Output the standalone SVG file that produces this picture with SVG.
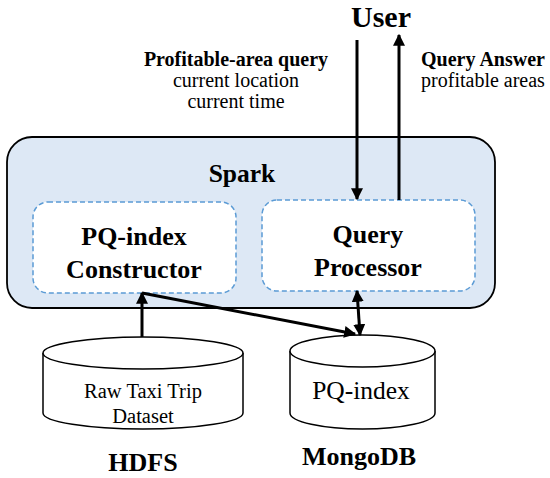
<svg xmlns="http://www.w3.org/2000/svg" width="550" height="478" viewBox="0 0 550 478" font-family="'Liberation Serif', 'DejaVu Serif', serif">
<style>
text{font-family:'Liberation Serif','DejaVu Serif',serif;fill:#000;text-anchor:middle}
.b{font-weight:bold}
.sub{stroke:#5b9bd5;stroke-width:1.5;stroke-dasharray:5 3;fill:#fff}
.cyl{fill:#fff;stroke:#000;stroke-width:1.5}
.ln{stroke:#000;stroke-width:3;fill:none}
</style>
<defs>
<marker id="ah" viewBox="0 0 10 10" refX="9" refY="5" markerWidth="4" markerHeight="4" orient="auto-start-reverse" markerUnits="strokeWidth">
<path d="M0,0 L10,5 L0,10 Z" fill="#000"/>
</marker>
</defs>
<g id="spark">
<rect x="7" y="137" width="488" height="171" rx="25" ry="25" fill="#dde8f5" stroke="#000" stroke-width="1.8"/>
<text class="b" x="242" y="182" font-size="25.5">Spark</text>
</g>
<g id="constructor">
<rect class="sub" x="33" y="202" width="203" height="91" rx="15" ry="15"/>
<text class="b" x="134" y="245" font-size="26">PQ-index</text>
<text class="b" x="134" y="278" font-size="26">Constructor</text>
</g>
<g id="processor">
<rect class="sub" x="262" y="200" width="213" height="91" rx="15" ry="15"/>
<text class="b" x="368" y="243" font-size="26">Query</text>
<text class="b" x="368" y="276" font-size="26">Processor</text>
</g>
<g id="user">
<text class="b" x="381" y="27" font-size="30">User</text>
</g>
<g id="query-label">
<text class="b" x="236" y="66" font-size="20">Profitable-area query</text>
<text x="236" y="87" font-size="20">current location</text>
<text x="236" y="108" font-size="20">current time</text>
</g>
<g id="answer-label">
<text class="b" x="483" y="66" font-size="20">Query Answer</text>
<text x="483" y="87" font-size="20">profitable areas</text>
</g>
<g id="hdfs">
<path class="cyl" d="M43,353 L43,413 A100,16 0 0 0 243,413 L243,353"/>
<ellipse class="cyl" cx="143" cy="353" rx="100" ry="16"/>
<text x="143" y="398" font-size="20.5">Raw Taxi Trip</text>
<text x="143" y="423" font-size="20.5">Dataset</text>
<text class="b" x="143" y="471" font-size="26">HDFS</text>
</g>
<g id="mongodb">
<path class="cyl" d="M290,351 L290,413 A72.5,16 0 0 0 435,413 L435,351"/>
<ellipse class="cyl" cx="362.5" cy="351" rx="72.5" ry="16"/>
<text x="361" y="399" font-size="25.5">PQ-index</text>
<text class="b" x="359" y="465" font-size="26">MongoDB</text>
</g>
<g id="connectors">
<line class="ln" x1="357" y1="40" x2="357" y2="199" marker-end="url(#ah)"/>
<line class="ln" x1="399" y1="200" x2="399" y2="35" marker-end="url(#ah)"/>
<line class="ln" x1="142" y1="337" x2="142" y2="293" marker-end="url(#ah)"/>
<line class="ln" x1="142" y1="293" x2="355" y2="334" marker-end="url(#ah)"/>
<line class="ln" x1="357" y1="291" x2="360" y2="335" marker-start="url(#ah)" marker-end="url(#ah)"/>
</g>
</svg>
